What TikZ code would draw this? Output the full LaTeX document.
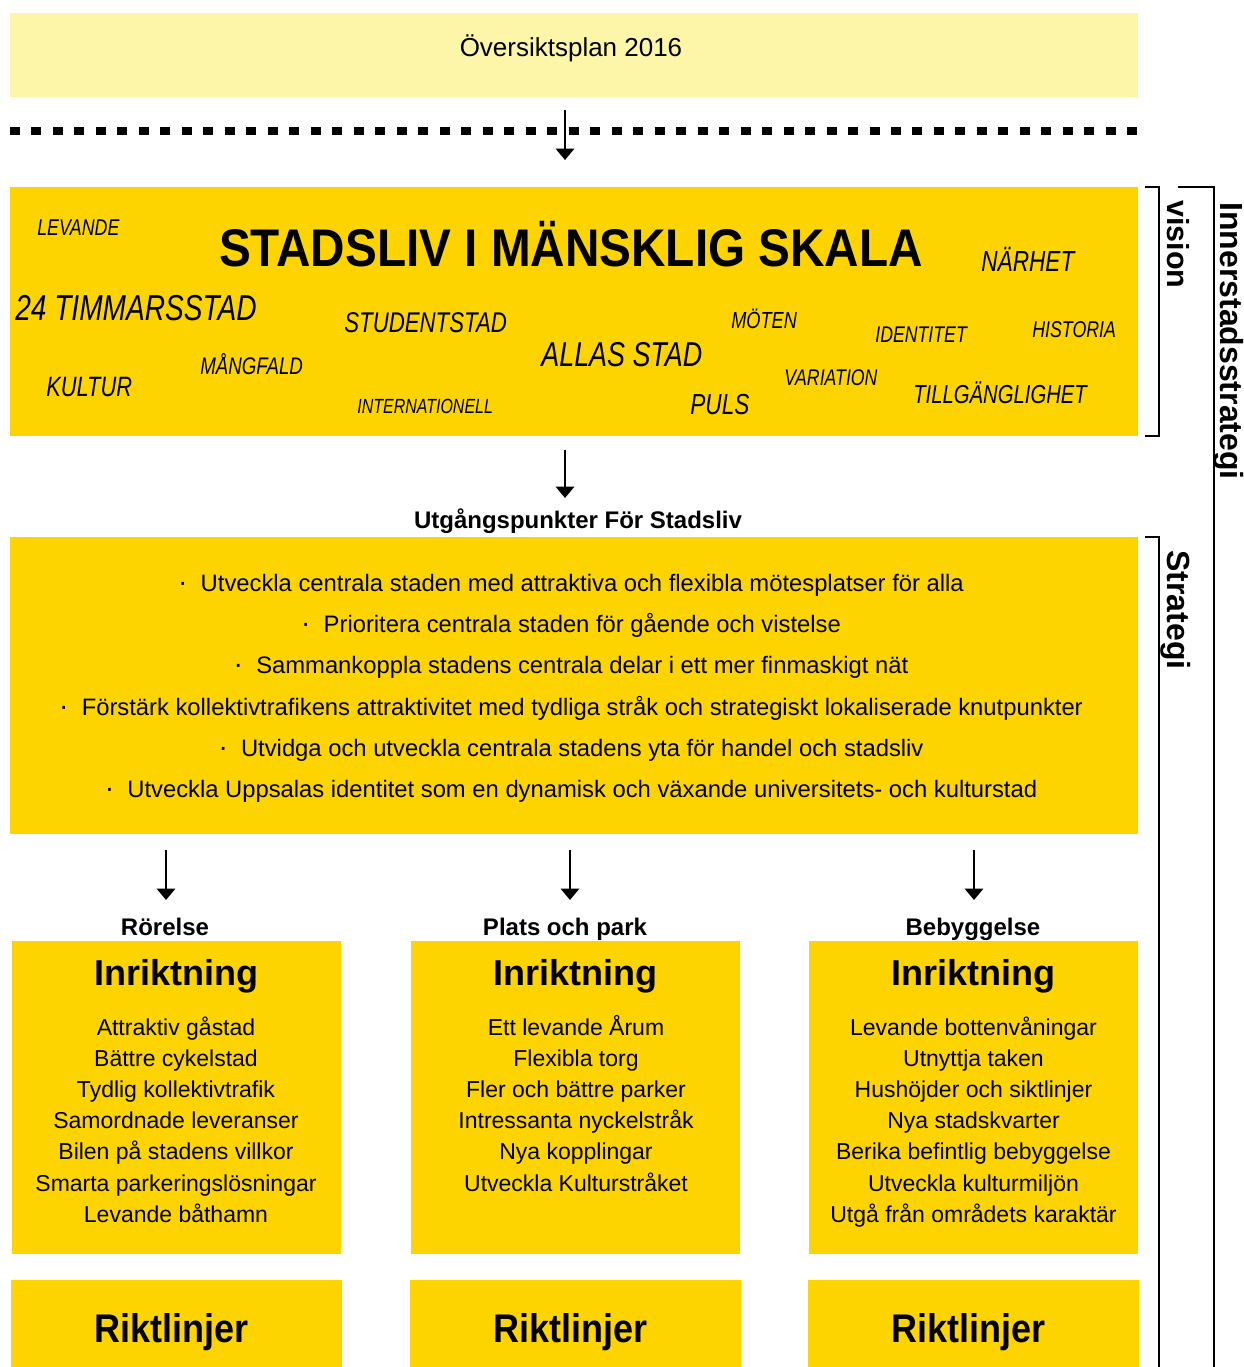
\documentclass[tikz,border=0pt]{standalone}
\usepackage{fontspec}
\setmainfont{Liberation Sans}
\newfontfamily\cloudfont[FakeStretch=0.78]{Liberation Sans}
\newfontfamily\condfont[FakeStretch=0.9]{Liberation Sans}
\usetikzlibrary{arrows.meta,positioning}
\definecolor{paleyellow}{RGB}{253,245,168}
\definecolor{gold}{RGB}{253,212,0}
\newcommand{\fpx}[1]{\fontsize{\fpeval{#1*0.569}pt}{\fpeval{#1*0.569*1.2}pt}\selectfont}
\newcommand{\pkt}{{\fpx{28}·}\ \ }
\tikzset{
  box/.style={fill=gold, inner sep=0pt, anchor=center},
  arr/.style={-{Triangle[width=10.5pt,length=6.5pt]}, line width=1.14pt},
  brak/.style={line width=1.5pt},
  word/.style={anchor=base west, inner sep=0pt, font=\cloudfont\itshape},
  item/.style={anchor=base, inner sep=0pt, font=\fpx{23}},
  bull/.style={anchor=base, inner sep=0pt, font=\fpx{23.8}},
  head/.style={anchor=base, inner sep=0pt, font=\bfseries\fpx{24}},
  side/.style={rotate=-90, anchor=base west, inner sep=0pt, font=\bfseries\fpx{31}},
}
\begin{document}
\begin{tikzpicture}[x=0.02cm, y=-0.02cm]
  \useasboundingbox (0,0) rectangle (1244,1367);

  % oversiktsplan
  \node[box, fill=paleyellow, minimum width=22.56cm, minimum height=1.68cm] (plan) at (574,55) {};
  \node[anchor=base, inner sep=0pt, font=\fpx{26}] (plantext) at (571,56) {Översiktsplan 2016};
  \draw[line width=4pt, dash pattern=on 5.69pt off 6.54pt] (10,131) -- (1138,131);
  \coordinate (a1) at (565,110);
  \coordinate (b1) at (565,160);
  \draw[arr] (a1) -- (b1);

  % vision
  \node[box, minimum width=22.56cm, minimum height=4.98cm] (vision) at (574,311.5) {};
  \node[anchor=base, inner sep=0pt, font=\condfont\bfseries\fpx{53}] (motto) at (571,266) {STADSLIV I MÄNSKLIG SKALA};
  \foreach \x/\y/\s/\w in {37/235/22.8/LEVANDE, 981/271/29/NÄRHET, 15/320/36/24 TIMMARSSTAD,
      344/332/28.5/STUDENTSTAD, 731/328/23.3/MÖTEN, 875/342/22.7/IDENTITET, 1032/337/22.8/HISTORIA,
      541/366/34.5/ALLAS STAD, 200/374/24/MÅNGFALD, 46/396/28/KULTUR, 784/385/22.7/VARIATION,
      913/403/26/TILLGÄNGLIGHET, 357/413/20.5/INTERNATIONELL, 690/414/29/PULS}
    \node[word] at (\x,\y) {\fpx{\s}\w};

  \coordinate (a2) at (565,450);
  \coordinate (b2) at (565,498);
  \draw[arr] (a2) -- (b2);
  \node[head] (utg) at (578,528) {Utgångspunkter För Stadsliv};

  % strategi
  \node[box, minimum width=22.56cm, minimum height=5.94cm] (strat) at (574,685.5) {};
  \node[bull] (s1) at (571,591) {\pkt Utveckla centrala staden med attraktiva och flexibla mötesplatser för alla};
  \node[bull] (s2) at (571,632) {\pkt Prioritera centrala staden för gående och vistelse};
  \node[bull] (s3) at (571,673) {\pkt Sammankoppla stadens centrala delar i ett mer finmaskigt nät};
  \node[bull] (s4) at (571,715) {\pkt Förstärk kollektivtrafikens attraktivitet med tydliga stråk och strategiskt lokaliserade knutpunkter};
  \node[bull] (s5) at (571,756) {\pkt Utvidga och utveckla centrala stadens yta för handel och stadsliv};
  \node[bull] (s6) at (571,797) {\pkt Utveckla Uppsalas identitet som en dynamisk och växande universitets- och kulturstad};

  % tre spår
  \foreach \n/\ax/\hx/\bx/\t in {1/166/165/176.5/Rörelse, 2/570/565/575.5/Plats och park, 3/974/973/973.5/Bebyggelse}{
    \coordinate (top\n) at (\ax,850);
    \coordinate (bot\n) at (\ax,900);
    \draw[arr] (top\n) -- (bot\n);
    \node[head] (lab\n) at (\hx,935) {\t};
    \node[box, minimum width=6.58cm, minimum height=6.26cm] (inr\n) at (\bx,1097.5) {};
    \node[anchor=base, inner sep=0pt, font=\bfseries\fpx{36}] (inrt\n) at (\bx,985) {Inriktning};
    \node[box, minimum width=6.62cm, minimum height=1.74cm] (rik\n) at (\bx,1323.5) {};
    \node[anchor=base, inner sep=0pt, font=\condfont\bfseries\fpx{40}] (rikt\n) at (\bx-5,1342) {Riktlinjer};
  }
  \foreach \w [count=\i] in {Attraktiv gåstad, Bättre cykelstad, Tydlig kollektivtrafik, Samordnade leveranser,
      Bilen på stadens villkor, Smarta parkeringslösningar, Levande båthamn}
    \node[item] at (176,1035+31.2*\i-31.2) {\w};
  \foreach \w [count=\i] in {Ett levande Årum, Flexibla torg, Fler och bättre parker, Intressanta nyckelstråk,
      Nya kopplingar, Utveckla Kulturstråket}
    \node[item] at (576,1035+31.2*\i-31.2) {\w};
  \foreach \w [count=\i] in {Levande bottenvåningar, Utnyttja taken, Hushöjder och siktlinjer, Nya stadskvarter,
      Berika befintlig bebyggelse, Utveckla kulturmiljön, Utgå från områdets karaktär}
    \node[item] at (973.5,1035+31.2*\i-31.2) {\w};

  % klamrar
  \draw[brak] (1145,187) -- (1159,187) -- (1159,436) -- (1145,436);
  \draw[brak] (1178,187) -- (1214,187) -- (1214,1367);
  \draw[brak] (1145,537) -- (1159,537) -- (1159,1367);
  \node[side, font=\bfseries\fpx{30.5}] (vis) at (1167,200) {vision};
  \node[side, font=\bfseries\fpx{32}] (inner) at (1220,202) {Innerstadsstrategi};
  \node[side, font=\bfseries\fpx{32}] (strg) at (1167,550) {Strategi};
\end{tikzpicture}
\end{document}
